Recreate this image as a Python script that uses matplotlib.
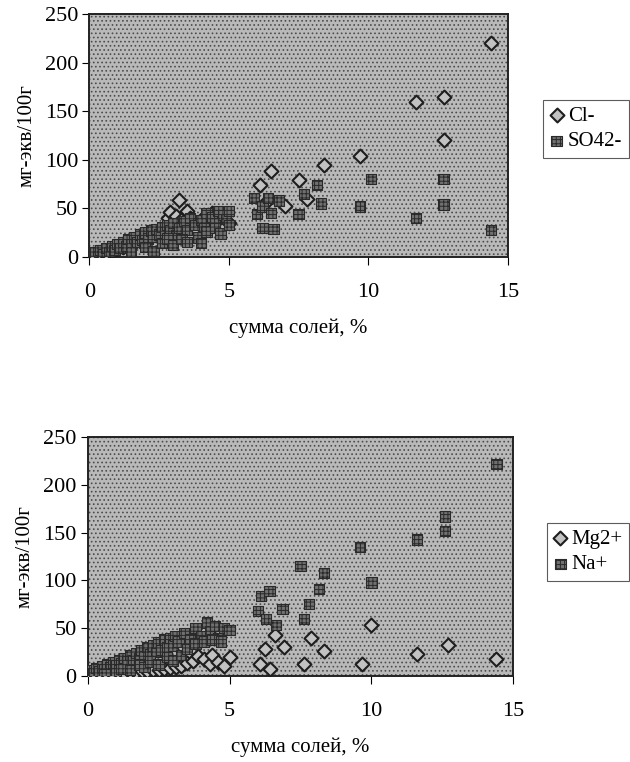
import matplotlib
matplotlib.use("Agg")
import matplotlib.pyplot as plt

plt.rcParams['font.family'] = ['Liberation Serif', 'DejaVu Serif']
plt.rcParams['hatch.linewidth'] = 0.7

# верхний график: анионы
cl_x = [0.1, 0.2, 0.3, 0.4, 0.5, 0.6, 0.7, 0.8, 0.9, 1.0, 1.1, 1.2, 1.3, 1.4, 1.5,
        1.6, 1.7, 1.8, 1.9, 2.0, 2.1, 2.2, 2.3, 2.4, 2.5, 2.6, 2.7, 2.8, 2.9, 3.0,
        3.1, 3.2, 3.3, 3.5, 3.6, 3.7, 3.8, 4.0, 4.2, 4.4, 4.6, 4.8, 5.0,
        6.1, 6.3, 6.5, 7.0, 7.5, 7.8, 8.4, 9.7, 11.7, 12.7, 12.7, 14.4]
cl_y = [2, 1, 4, 3, 5, 4, 7, 6, 9, 8, 11, 10, 13, 12, 15,
        14, 17, 16, 19, 18, 22, 20, 24, 22, 27, 25, 30, 40, 46, 35,
        42, 59, 38, 47, 40, 34, 30, 38, 42, 45, 40, 44, 35,
        74, 55, 88, 52, 79, 60, 95, 104, 160, 165, 121, 221]

so4_x = [0.05, 0.1, 0.2, 0.3, 0.4, 0.5, 0.6, 0.7, 0.8, 0.9, 1.0, 1.1, 1.2, 1.3, 1.4,
         1.5, 1.6, 1.7, 1.8, 1.9, 2.0, 2.1, 2.2, 2.3, 2.4, 2.5, 2.6, 2.7, 2.8, 2.9,
         3.0, 3.1, 3.2, 3.4, 3.5, 3.6, 3.8, 4.0, 4.1, 4.2, 4.4, 4.5, 4.6, 4.8, 4.9, 5.0,
         1.5, 2.0, 2.3, 2.6, 2.8, 3.0, 3.3, 3.5, 3.9, 4.0, 4.2, 4.5, 4.7, 5.0,
         5.9, 6.0, 6.2, 6.2, 6.4, 6.5, 6.6, 6.8, 7.5, 7.7, 8.15, 8.3,
         9.7, 10.1, 11.7, 12.7, 12.7, 14.4]
so4_y = [3, 0, 5, 1, 7, 3, 9, 5, 11, 7, 13, 9, 15, 11, 18,
         13, 20, 15, 23, 17, 25, 19, 27, 21, 29, 23, 31, 25, 33, 27,
         35, 22, 30, 37, 28, 40, 33, 38, 30, 45, 41, 35, 47, 43, 39, 47,
         5, 10, 6, 14, 19, 12, 18, 15, 20, 14, 26, 30, 24, 33,
         61, 44, 30, 52, 61, 45, 29, 58, 44, 65, 74, 55,
         52, 80, 40, 80, 54, 28]

# нижний график: катионы
mg_x = [0.1, 0.3, 0.5, 0.7, 0.9, 1.1, 1.3, 1.5, 1.7, 1.9, 2.1, 2.3, 2.5, 2.7, 2.9,
        3.1, 3.3, 3.5, 3.7, 3.9, 4.1, 4.3, 4.4, 4.6, 4.8, 5.0,
        6.06, 6.24, 6.41, 6.59, 6.93, 7.63, 7.86, 8.33, 9.66, 10.0, 11.6, 12.7, 14.4]
mg_y = [0, 1, 1, 2, 2, 3, 3, 4, 4, 5, 5, 6, 6, 7, 8,
        9, 10, 13, 16, 21, 18, 12, 22, 15, 10, 20,
        12, 28, 7, 43, 30, 12, 40, 26, 12, 53, 23, 32, 18]

na_x = [0.05, 0.1, 0.2, 0.3, 0.4, 0.5, 0.6, 0.7, 0.8, 0.9, 1.0, 1.1, 1.2, 1.3, 1.4,
        1.5, 1.6, 1.7, 1.8, 1.9, 2.0, 2.1, 2.2, 2.3, 2.4, 2.5, 2.6, 2.7, 2.8, 2.9,
        3.0, 3.1, 3.2, 3.4, 3.6, 3.8, 4.0, 4.2, 4.3, 4.5, 4.6, 4.8, 5.0,
        0.6, 1.0, 1.2, 1.5, 1.8, 2.0, 2.2, 2.5, 2.8, 3.0, 3.3, 3.5, 3.8, 4.1, 4.4, 4.7,
        6.0, 6.12, 6.28, 6.41, 6.64, 6.87, 7.5, 7.63, 7.8, 8.15, 8.33,
        9.6, 10.0, 11.6, 12.6, 12.6, 14.4]
na_y = [2, 6, 3, 8, 5, 10, 7, 12, 9, 14, 11, 17, 13, 19, 15,
        22, 17, 24, 19, 27, 21, 30, 23, 32, 25, 35, 27, 38, 30, 40,
        32, 42, 36, 45, 38, 50, 42, 56, 47, 52, 40, 50, 48,
        2, 3, 7, 6, 12, 9, 15, 12, 20, 16, 22, 28, 34, 36, 38, 36,
        68, 84, 60, 89, 53, 70, 115, 60, 75, 91, 108,
        135, 98, 143, 152, 167, 222]

x_ticks = [0, 5, 10, 15]
y_ticks = [0, 50, 100, 150, 200, 250]

panels = [
    ([0.142, 0.663, 0.664, 0.318], (cl_x, cl_y, "Cl-"), (so4_x, so4_y, "SO42-"), (0.862, 0.869)),
    ([0.139, 0.113, 0.676, 0.313], (mg_x, mg_y, "Mg2+"), (na_x, na_y, "Na+"), (0.868, 0.314)),
]

fig = plt.figure(figsize=(6.3, 7.62), dpi=100)

for rect, diam, sq, leg_pos in panels:
    ax = fig.add_axes(rect)
    ax.set_facecolor("#b9b9b9")
    ax.patch.set_hatch("....")
    ax.patch.set_edgecolor("#4c4c4c")

    ax.scatter(diam[0], diam[1], marker="D", s=50, c="#c2c2c2", edgecolors="#1e1e1e",
               linewidths=1.5, label=diam[2], zorder=3)
    ax.scatter(sq[0], sq[1], marker="s", s=55, c="#707070", edgecolors="#2a2a2a",
               linewidths=0.8, hatch="++++", label=sq[2], zorder=4)

    ax.set_xlim(0, 15)
    ax.set_ylim(0, 250)
    ax.set_xticks(x_ticks)
    ax.set_yticks(y_ticks)
    ax.tick_params(axis="x", direction="out", length=6, pad=13, labelsize=16)
    ax.tick_params(axis="y", direction="out", length=5, pad=3, labelsize=16)
    for sp in ax.spines.values():
        sp.set_linewidth(1.4)
        sp.set_color("#222222")

    ax.set_xlabel("сумма солей, %", fontsize=15, labelpad=12)
    ax.set_ylabel("мг-экв/100г", fontsize=15, labelpad=6)

    h, l = ax.get_legend_handles_labels()
    leg = fig.legend(h, l, loc="upper left", bbox_to_anchor=leg_pos,
                     fontsize=15, frameon=True, fancybox=False, edgecolor="#333333",
                     handletextpad=0.2, handlelength=0.7, borderpad=0.3,
                     labelspacing=0.3, borderaxespad=0)
    leg.get_frame().set_linewidth(0.8)

fig.savefig("out.png", dpi=100)
